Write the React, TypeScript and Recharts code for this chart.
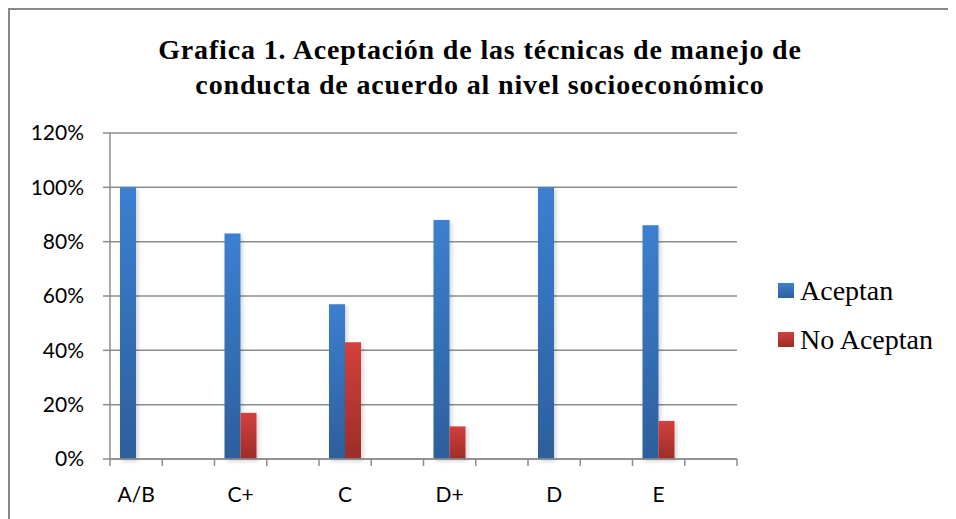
import React from 'react';
import { BarChart, Bar, XAxis, YAxis, CartesianGrid } from 'recharts';

// 12 slots on the category axis, only every other one carries a level
const niveles = ['A/B', '', 'C+', '', 'C', '', 'D+', '', 'D', '', 'E', ''];
const aceptan = [100, null, 83, null, 57, null, 88, null, 100, null, 86, null];
const noAceptan = [0, null, 17, null, 43, null, 12, null, 0, null, 14, null];
const yTicks = [0, 20, 40, 60, 80, 100, 120];

const data = niveles.map((name, i) => ({
  name,
  aceptan: aceptan[i],
  noAceptan: noAceptan[i],
}));

const CHART_W = 946;
const CHART_H = 509;
const LEFT = 100;
const RIGHT = 219;
const BAND = (CHART_W - LEFT - RIGHT) / niveles.length;
const GRAY = '#8c8c8c';

const XTick = (props: any) => {
  const { x, y, payload, index } = props;
  return (
    <g>
      <line x1={x - BAND / 2} x2={x - BAND / 2} y1={y} y2={y + 7} stroke={GRAY} strokeWidth={1.5} />
      {index === niveles.length - 1 && (
        <line x1={x + BAND / 2} x2={x + BAND / 2} y1={y} y2={y + 7} stroke={GRAY} strokeWidth={1.5} />
      )}
      <text x={x} y={y + 43} textAnchor="middle" fill="#000" fontFamily="Lato" fontSize={21}>
        {payload.value}
      </text>
    </g>
  );
};

const legendItems = [
  { label: 'Aceptan', top: '#3c7fd0', bottom: '#2d5f9c' },
  { label: 'No Aceptan', top: '#d3403c', bottom: '#9c2d29' },
];

const LegendBox = () => (
  <div style={{ position: 'absolute', left: 768, top: 256 }}>
    {legendItems.map((it, i) => (
      <div key={it.label} style={{ display: 'flex', alignItems: 'center', height: 49 }}>
        <svg width={16} height={15} style={{ marginRight: 6 }}>
          <defs>
            <linearGradient id={'lg' + i} x1="0" y1="0" x2="0" y2="1">
              <stop offset="0%" stopColor={it.top} />
              <stop offset="100%" stopColor={it.bottom} />
            </linearGradient>
          </defs>
          <rect width={16} height={15} fill={'url(#lg' + i + ')'} />
        </svg>
        <span style={{ fontFamily: 'Liberation Serif', fontSize: 28, color: '#000', lineHeight: 1 }}>
          {it.label}
        </span>
      </div>
    ))}
  </div>
);

export default function App() {
  return (
    <div
      style={{
        position: 'relative',
        width: 948,
        height: 511,
        borderTop: '2px solid #878787',
        borderLeft: '2px solid #878787',
        background: '#fff',
      }}
    >
      <div
        style={{
          position: 'absolute',
          left: 0,
          top: 22,
          width: 940,
          textAlign: 'center',
          fontFamily: 'Liberation Serif',
          fontWeight: 'bold',
          fontSize: 28,
          letterSpacing: 0.85,
          lineHeight: '35px',
          color: '#000',
        }}
      >
        Grafica 1. Aceptación de las técnicas de manejo de
        <br />
        conducta de acuerdo al nivel socioeconómico
      </div>
      <BarChart
        width={CHART_W}
        height={CHART_H}
        data={data}
        margin={{ top: 123, right: RIGHT, bottom: 0, left: 0 }}
        barSize={16}
        barGap={0}
      >
        <defs>
          <linearGradient id="gradBlue" x1="0" y1="0" x2="0" y2="1">
            <stop offset="0%" stopColor="#3c7fd0" />
            <stop offset="100%" stopColor="#2d5f9c" />
          </linearGradient>
          <linearGradient id="gradRed" x1="0" y1="0" x2="0" y2="1">
            <stop offset="0%" stopColor="#d3403c" />
            <stop offset="100%" stopColor="#9c2d29" />
          </linearGradient>
          <filter id="sombra" x="-30%" y="-5%" width="170%" height="115%">
            <feDropShadow dx="2" dy="2" stdDeviation="2" floodColor="#000" floodOpacity="0.18" />
          </filter>
        </defs>
        <CartesianGrid vertical={false} stroke={GRAY} strokeWidth={1.5} />
        <XAxis
          dataKey="name"
          height={60}
          axisLine={{ stroke: GRAY, strokeWidth: 1.5 }}
          tickLine={false}
          tickSize={0}
          tickMargin={0}
          interval={0}
          tick={(p: any) => <XTick {...p} />}
        />
        <YAxis
          width={LEFT}
          domain={[0, 120]}
          ticks={yTicks}
          tickFormatter={(v: number) => `${v}%`}
          axisLine={{ stroke: GRAY, strokeWidth: 1.5 }}
          tickLine={{ stroke: GRAY, strokeWidth: 1.5 }}
          tickSize={7}
          tickMargin={19}
          tick={{ fill: '#000', fontFamily: 'Lato', fontSize: 21 }}
        />
        <Bar dataKey="aceptan" name="Aceptan" fill="url(#gradBlue)" filter="url(#sombra)" isAnimationActive={false} />
        <Bar dataKey="noAceptan" name="No Aceptan" fill="url(#gradRed)" filter="url(#sombra)" isAnimationActive={false} />
      </BarChart>
      <LegendBox />
    </div>
  );
}
